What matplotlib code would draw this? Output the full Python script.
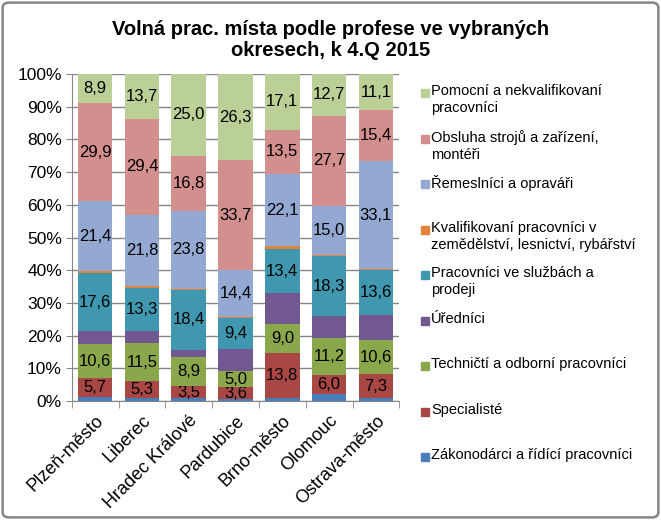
import numpy as np
import matplotlib
matplotlib.use("Agg")
import matplotlib.pyplot as plt
from matplotlib.patches import FancyBboxPatch, Rectangle

plt.rcParams["font.family"] = ["Liberation Sans", "DejaVu Sans"]

districts = ["Plzeň-město", "Liberec", "Hradec Králové", "Pardubice",
             "Brno-město", "Olomouc", "Ostrava-město"]

# series from bottom to top
series_names = [
    "Zákonodárci a řídící pracovníci",
    "Specialisté",
    "Techničtí a odborní pracovníci",
    "Úředníci",
    "Pracovníci ve službách a\nprodeji",
    "Kvalifikovaní pracovníci v\nzemědělství, lesnictví, rybářství",
    "Řemeslníci a opraváři",
    "Obsluha strojů a zařízení,\nmontéři",
    "Pomocní a nekvalifikovaní\npracovníci",
]
zakonodarci = [1.2, 0.8, 1.0, 0.6, 0.9, 2.0, 0.8]
specialiste = [5.7, 5.3, 3.5, 3.6, 13.8, 6.0, 7.3]
technicti = [10.6, 11.5, 8.9, 5.0, 9.0, 11.2, 10.6]
urednici = [3.8, 3.7, 2.2, 6.7, 9.3, 6.7, 7.6]
sluzby = [17.6, 13.3, 18.4, 9.4, 13.4, 18.3, 13.6]
kvalifikovani = [0.6, 0.5, 0.4, 0.3, 0.9, 0.4, 0.3]
remeslnici = [21.4, 21.8, 23.8, 14.4, 22.1, 15.0, 33.1]
obsluha = [29.9, 29.4, 16.8, 33.7, 13.5, 27.7, 15.4]
pomocni = [8.9, 13.7, 25.0, 26.3, 17.1, 12.7, 11.1]

series_values = [zakonodarci, specialiste, technicti, urednici, sluzby,
                 kvalifikovani, remeslnici, obsluha, pomocni]
labelled = [False, True, True, False, True, False, True, True, True]
colors = ["#4a7ebb", "#a94745", "#8aa74c", "#715891", "#4098b0",
          "#e4823a", "#94a9d2", "#d38f8e", "#bad096"]

data = np.array(series_values, dtype=float)
totals = data.sum(axis=0)
shares = data / totals * 100

fig = plt.figure(figsize=(6.61, 5.20), dpi=100)
ax = fig.add_axes([0.1085, 0.2288, 0.4956, 0.6289])

x = np.arange(len(districts))
bottom = np.zeros(len(districts))
for name, vals, share, col, lab in zip(series_names, data, shares, colors, labelled):
    bars = ax.bar(x, share, 0.74, bottom=bottom, color=col, zorder=3)
    if lab:
        ax.bar_label(bars, labels=[f"{v:.1f}".replace(".", ",") for v in vals],
                     label_type="center", fontsize=12, color="black")
    bottom += share

ax.set_xlim(-0.5, len(districts) - 0.5)
ax.set_ylim(0, 100)
ax.set_yticks(np.arange(0, 101, 10))
ax.set_yticklabels([f"{v}%" for v in range(0, 101, 10)], fontsize=12.5)
ax.yaxis.grid(True, color="#868686", linewidth=1, zorder=0)
ax.tick_params(axis="y", length=4, color="#868686", pad=3)

ax.set_xticks(x)
ax.set_xticklabels(districts, rotation=45, ha="right", rotation_mode="anchor", fontsize=13)
ax.tick_params(axis="x", which="major", length=0, pad=8)
ax.set_xticks(np.arange(-0.5, len(districts)), minor=True)
ax.tick_params(axis="x", which="minor", length=5, color="#868686")

for side in ["top", "right"]:
    ax.spines[side].set_visible(False)
for side in ["left", "bottom"]:
    ax.spines[side].set_color("#868686")

fig.text(0.5008, 0.923, "Volná prac. místa podle profese ve vybraných\nokresech, k 4.Q 2015",
         ha="center", va="center", fontsize=14.5, fontweight="bold", linespacing=1.08)

# legend, drawn top-down like the reference
W, H = 661, 520
for i, idx in enumerate(reversed(range(len(series_names)))):
    y_line = 93.3 + 45.5 * i
    fig.patches.append(Rectangle((421 / W, 1 - (y_line + 4) / H), 8 / W, 8 / H,
                                 transform=fig.transFigure, color=colors[idx]))
    fig.text(431 / W, 1 - (y_line - 9) / H, series_names[idx], ha="left", va="top",
             fontsize=10.5, linespacing=1.26)

fig.patches.append(FancyBboxPatch((0.004, 0.005), 0.992, 0.99,
                                  boxstyle="round,pad=0,rounding_size=0.01",
                                  transform=fig.transFigure, fill=False,
                                  edgecolor="#868686", linewidth=1.8))

fig.savefig("out.png", dpi=100)
